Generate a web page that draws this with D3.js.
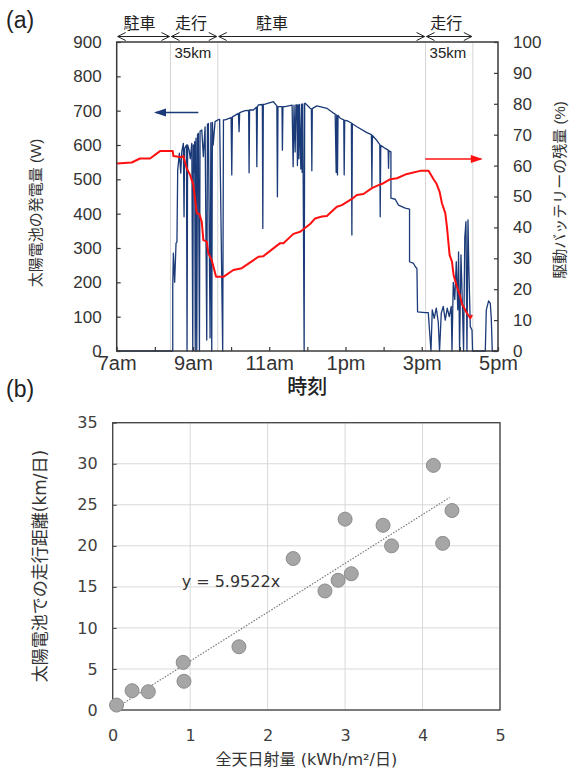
<!DOCTYPE html>
<html>
<head>
<meta charset="utf-8">
<script src="https://cdn.jsdelivr.net/npm/d3@7"></script>
<style>
body { margin: 0; background: #fff; }
svg { display: block; }
</style>
</head>
<body>
<script>
// (a) solar output (W) and battery level (%) over one day, time in decimal hours
let hourTicks = [7, 8, 9, 10, 11, 12, 13, 14, 15, 16, 17];
let hourLabels = {7: "7am", 9: "9am", 11: "11am", 13: "1pm", 15: "3pm", 17: "5pm"};
let wattTicks = [0, 100, 200, 300, 400, 500, 600, 700, 800, 900];
let pctTicks = [0, 10, 20, 30, 40, 50, 60, 70, 80, 90, 100];

let phaseBounds = [7, 8.41, 9.65, 15.10, 16.34];
let phaseNames = ["駐車", "走行", "駐車", "走行"];
let phaseLabelAt = [7.6, 8.95, 11.07, 15.64];
let driveNote = "35km";

let solarW = [
  [7.00, 0], [8.47, 0], [8.47, 187], [8.486, 285], [8.52, 200], [8.556, 314], [8.58, 318],
  [8.60, 527], [8.643, 576], [8.68, 518], [8.706, 580], [8.748, 605], [8.766, 391], [8.78, 590],
  [8.83, 600], [8.845, 0], [8.86, 600], [8.90, 585], [8.93, 560], [8.97, 605], [8.995, 0],
  [9.01, 600], [9.03, 520], [9.045, 610], [9.06, 0], [9.08, 620], [9.10, 0], [9.12, 630],
  [9.142, 634], [9.17, 0], [9.186, 640], [9.231, 644], [9.273, 566], [9.318, 653], [9.362, 32],
  [9.38, 660], [9.404, 663], [9.449, 38], [9.47, 665], [9.493, 0], [9.51, 666], [9.53, 600],
  [9.58, 668], [9.651, 673], [9.70, 675], [9.78, 0], [9.80, 673], [9.843, 673],
  [10.00, 680], [10.018, 513], [10.035, 682], [10.192, 692], [10.21, 639], [10.225, 694],
  [10.367, 700], [10.46, 701], [10.472, 519], [10.485, 702], [10.585, 702], [10.663, 710],
  [10.675, 537], [10.69, 712], [10.717, 717], [10.82, 718], [10.832, 357], [10.845, 718],
  [10.892, 719], [11.11, 726], [11.20, 714], [11.215, 449], [11.23, 712], [11.335, 712],
  [11.346, 585], [11.36, 712], [11.417, 712], [11.60, 716], [11.627, 537], [11.65, 716],
  [11.68, 580], [11.70, 717], [11.724, 717], [11.74, 540], [11.757, 717], [11.777, 560],
  [11.79, 718], [11.829, 530], [11.845, 719], [11.864, 520], [11.88, 720], [11.916, 0],
  [11.93, 721], [11.942, 722], [12.073, 707], [12.105, 705], [12.118, 525], [12.13, 706],
  [12.249, 714], [12.512, 707], [12.70, 692], [12.73, 690], [12.756, 520], [12.77, 688],
  [12.79, 513], [12.805, 686], [12.861, 678], [12.955, 673], [12.966, 513], [12.98, 672],
  [13.037, 671], [13.155, 664], [13.168, 338], [13.18, 662], [13.299, 653], [13.562, 636],
  [13.68, 630], [13.693, 479], [13.705, 628], [13.824, 613], [13.90, 601], [13.911, 391],
  [13.925, 599], [14.042, 590], [14.12, 585], [14.129, 532], [14.14, 583], [14.192, 580],
  [14.192, 445], [14.304, 442], [14.391, 425], [14.567, 416], [14.68, 413], [14.68, 260],
  [14.785, 255], [14.829, 246], [14.874, 240], [14.89, 114], [15.092, 112],
  [15.171, 112], [15.242, 0], [15.276, 120], [15.328, 95], [15.381, 125], [15.433, 85],
  [15.467, 0], [15.512, 110], [15.564, 130], [15.617, 90], [15.669, 125], [15.722, 100],
  [15.774, 130], [15.793, 0], [15.827, 200], [15.866, 150], [15.906, 260], [15.945, 120],
  [15.966, 289], [15.992, 0], [16.029, 280], [16.063, 150], [16.097, 0], [16.129, 330],
  [16.16, 377], [16.186, 0], [16.213, 382], [16.234, 250], [16.273, 71], [16.318, 61],
  [16.333, 0], [16.667, 0], [16.693, 119], [16.753, 146], [16.798, 139], [16.824, 95],
  [16.85, 0], [17.0, 0]
];

let batteryPct = [
  [7.00, 60.7], [7.394, 61.0], [7.612, 62.3], [7.874, 62.3], [8.136, 64.7], [8.47, 64.7],
  [8.486, 63.1], [8.706, 62.7], [8.748, 63.1], [8.837, 59.1], [8.924, 57.0], [9.01, 53.7],
  [9.10, 44.6], [9.168, 44.3], [9.231, 41.8], [9.273, 35.9], [9.362, 35.4], [9.404, 31.6],
  [9.493, 29.4], [9.606, 24.0], [9.798, 24.0], [10.06, 26.2], [10.281, 26.8], [10.717, 30.5],
  [10.848, 30.7], [11.286, 34.9], [11.373, 34.9], [11.635, 37.9], [11.811, 38.6],
  [12.073, 41.1], [12.205, 42.9], [12.381, 43.5], [12.512, 43.7], [12.774, 46.7],
  [12.906, 47.2], [13.168, 49.2], [13.299, 50.5], [13.472, 50.8], [13.693, 52.7],
  [13.866, 53.7], [13.997, 54.3], [14.173, 55.6], [14.349, 55.9], [14.612, 57.3],
  [14.698, 57.5], [14.961, 58.3], [15.178, 58.3], [15.31, 55.6], [15.381, 54.3],
  [15.467, 51.6], [15.53, 47.8], [15.617, 44.6], [15.661, 40.2], [15.73, 31.1],
  [15.793, 28.9], [15.835, 24.6], [15.924, 20.8], [16.01, 17.6], [16.055, 15.2],
  [16.186, 12.2], [16.273, 10.6], [16.318, 11.7]
];

// (b) daily irradiance vs distance driven on solar power
let irradiance = [0.05, 0.25, 0.46, 0.91, 0.92, 1.63, 2.33, 2.74, 2.91, 3.08, 3.00, 3.49, 3.60, 4.14, 4.26, 4.38];
let distance = [0.6, 2.35, 2.23, 5.8, 3.5, 7.7, 18.45, 14.5, 15.8, 16.6, 23.25, 22.5, 20.0, 29.8, 20.3, 24.3];
let slope = 5.9522;
let irrTicks = [0, 1, 2, 3, 4, 5];
let distTicks = [0, 5, 10, 15, 20, 25, 30, 35];

let width = 574;
let height = 776;
let latin = "'Liberation Sans', Arial, 'Noto Sans CJK JP', sans-serif";
let verd = "'DejaVu Sans', Verdana, 'Noto Sans CJK JP', sans-serif";

let svg = d3.select("body").append("svg").attr("width", width).attr("height", height);

// ---------- chart (a) ----------
let ax = d3.scaleLinear().domain([7, 17]).range([116.7, 498]);
let ayW = d3.scaleLinear().domain([0, 900]).range([351, 42]);
let ayP = d3.scaleLinear().domain([0, 100]).range([351, 42]);

let ga = svg.append("g");

// phase separators
ga.selectAll("line.sep").data(phaseBounds.slice(1)).enter().append("line")
  .attr("x1", (d) => ax(d)).attr("x2", (d) => ax(d))
  .attr("y1", ayW(900)).attr("y2", ayW(0))
  .attr("stroke", "#d4d4d4").attr("stroke-width", 1);

let lineW = d3.line().x((d) => ax(d[0])).y((d) => ayW(d[1]));
let lineP = d3.line().x((d) => ax(d[0])).y((d) => ayP(d[1]));

ga.append("path").datum(solarW).attr("d", lineW)
  .attr("fill", "none").attr("stroke", "#1b3a78").attr("stroke-width", 1.3)
  .attr("stroke-linejoin", "round");
ga.append("path").datum(batteryPct).attr("d", lineP)
  .attr("fill", "none").attr("stroke", "#ff1010").attr("stroke-width", 2)
  .attr("stroke-linejoin", "round");

// frame
ga.append("rect").attr("x", ax(7)).attr("y", ayW(900))
  .attr("width", ax(17) - ax(7)).attr("height", ayW(0) - ayW(900))
  .attr("fill", "none").attr("stroke", "#3a3a3a").attr("stroke-width", 1.5);

let axLeft = d3.axisLeft(ayW).tickValues(wattTicks).tickSize(-4).tickPadding(15);
let axRight = d3.axisRight(ayP).tickValues(pctTicks).tickSize(-4).tickPadding(15);
let axBottom = d3.axisBottom(ax).tickValues(hourTicks).tickSize(-4).tickPadding(5)
  .tickFormat((d) => hourLabels[d] || "");

function styleAxis(g, size) {
  g.select(".domain").remove();
  g.selectAll(".tick line").attr("stroke", "#3a3a3a").attr("stroke-width", 1.2);
  g.selectAll(".tick text").attr("fill", "#333").style("font-family", latin).style("font-size", size + "px");
}

ga.append("g").attr("transform", "translate(" + ax(7) + ",0)").call(axLeft).call((g) => styleAxis(g, 17));
ga.append("g").attr("transform", "translate(" + ax(17) + ",0)").call(axRight).call((g) => styleAxis(g, 17));
ga.append("g").attr("transform", "translate(0," + ayW(0) + ")").call(axBottom).call((g) => styleAxis(g, 20));

// axis titles
ga.append("text").attr("transform", "translate(41,213) rotate(-90)")
  .attr("text-anchor", "middle").style("font-family", latin).style("font-size", "15px").attr("fill", "#333")
  .text("太陽電池の発電量 (W)");
ga.append("text").attr("transform", "translate(565,190) rotate(-90)")
  .attr("text-anchor", "middle").style("font-family", latin).style("font-size", "15px").attr("fill", "#333")
  .text("駆動バッテリーの残量 (%)");
ga.append("text").attr("x", ax(12)).attr("y", 394)
  .attr("text-anchor", "middle").style("font-family", latin).style("font-size", "20px").attr("fill", "#222")
  .attr("font-weight", 500)
  .text("時刻");
ga.append("text").attr("x", 6).attr("y", 28)
  .style("font-family", latin).style("font-size", "23px").attr("fill", "#222").text("(a)");

// series arrows
function arrow(g, x1, x2, y, color, w) {
  let dir = x2 > x1 ? 1 : -1;
  g.append("line").attr("x1", x1).attr("x2", x2).attr("y1", y).attr("y2", y)
    .attr("stroke", color).attr("stroke-width", w);
  g.append("path")
    .attr("d", "M" + (x2 + dir * 2) + "," + y + "L" + (x2 - dir * 10) + "," + (y - 4) + "L" + (x2 - dir * 10) + "," + (y + 4) + "Z")
    .attr("fill", color);
}
arrow(ga, ax(9.14), ax(8.03), ayW(695), "#1b3a78", 1.5);
arrow(ga, ax(15.09), ax(16.55), ayP(62.1), "#ff1010", 1.5);

// phase arrows above the plot
function dblArrow(g, x1, x2, y) {
  g.append("line").attr("x1", x1).attr("x2", x2).attr("y1", y).attr("y2", y)
    .attr("stroke", "#222").attr("stroke-width", 1);
  g.append("path").attr("d", "M" + (x1 + 8) + "," + (y - 4) + "L" + x1 + "," + y + "L" + (x1 + 8) + "," + (y + 4))
    .attr("fill", "none").attr("stroke", "#222").attr("stroke-width", 1);
  g.append("path").attr("d", "M" + (x2 - 8) + "," + (y - 4) + "L" + x2 + "," + y + "L" + (x2 - 8) + "," + (y + 4))
    .attr("fill", "none").attr("stroke", "#222").attr("stroke-width", 1);
}
phaseNames.forEach((name, i) => {
  dblArrow(ga, ax(phaseBounds[i]) + 1, ax(phaseBounds[i + 1]) - 1, 36.5);
  ga.append("text").attr("x", ax(phaseLabelAt[i])).attr("y", 29)
    .attr("text-anchor", "middle").style("font-family", latin).style("font-size", "16px").attr("fill", "#222")
    .text(name);
  if (name === "走行") {
    ga.append("text").attr("x", ax(phaseBounds[i]) + 4).attr("y", 58)
      .style("font-family", latin).style("font-size", "15px").attr("fill", "#222").text(driveNote);
  }
});

// ---------- chart (b) ----------
let bx = d3.scaleLinear().domain([0, 5]).range([112.7, 500]);
let by = d3.scaleLinear().domain([0, 35]).range([710, 422.7]);

let gb = svg.append("g");

gb.selectAll("line.gx").data(irrTicks).enter().append("line")
  .attr("x1", (d) => bx(d)).attr("x2", (d) => bx(d)).attr("y1", by(0)).attr("y2", by(35))
  .attr("stroke", "#d9d9d9").attr("stroke-width", 1);
gb.selectAll("line.gy").data(distTicks).enter().append("line")
  .attr("x1", bx(0)).attr("x2", bx(5)).attr("y1", (d) => by(d)).attr("y2", (d) => by(d))
  .attr("stroke", "#d9d9d9").attr("stroke-width", 1);

gb.append("rect").attr("x", bx(0)).attr("y", by(35))
  .attr("width", bx(5) - bx(0)).attr("height", by(0) - by(35))
  .attr("fill", "none").attr("stroke", "#404040").attr("stroke-width", 1.3);

let bLeft = d3.axisLeft(by).tickValues(distTicks).tickSize(-4).tickPadding(15).tickFormat(d3.format("d"));
let bBottom = d3.axisBottom(bx).tickValues(irrTicks).tickSize(0).tickPadding(20).tickFormat(d3.format("d"));
function styleB(g) {
  g.select(".domain").remove();
  g.selectAll(".tick line").attr("stroke", "#404040");
  g.selectAll(".tick text").attr("fill", "#404040").style("font-family", verd).style("font-size", "16px");
}
gb.append("g").attr("transform", "translate(" + bx(0) + ",0)").call(bLeft).call(styleB);
gb.append("g").attr("transform", "translate(0," + by(0) + ")").call(bBottom).call(styleB);

// trend line y = slope * x
let xr = d3.extent(irradiance);
gb.append("line")
  .attr("x1", bx(xr[0])).attr("y1", by(slope * xr[0]))
  .attr("x2", bx(xr[1] - 0.03)).attr("y2", by(slope * (xr[1] - 0.03)))
  .attr("stroke", "#7a7a7a").attr("stroke-width", 1.2).attr("stroke-dasharray", "1.5,1.5");

let pts = irradiance.map((d, i) => [d, distance[i]]);
gb.selectAll("circle").data(pts).enter().append("circle")
  .attr("cx", (d) => bx(d[0])).attr("cy", (d) => by(d[1])).attr("r", 7)
  .attr("fill", "#a6a6a6").attr("stroke", "#8c8c8c").attr("stroke-width", 1);

gb.append("text").attr("x", bx(0.89)).attr("y", by(15.0))
  .style("font-family", verd).style("font-size", "16px").attr("fill", "#333")
  .text("y = " + slope + "x");

gb.append("text").attr("transform", "translate(46,566) rotate(-90)")
  .attr("text-anchor", "middle").style("font-family", verd).style("font-size", "17px").attr("fill", "#333")
  .text("太陽電池での走行距離(km/日)");
gb.append("text").attr("x", bx(2.5)).attr("y", 765)
  .attr("text-anchor", "middle").style("font-family", verd).style("font-size", "16px").attr("fill", "#333")
  .text("全天日射量 (kWh/m²/日)");
gb.append("text").attr("x", 6).attr("y", 397)
  .style("font-family", latin).style("font-size", "23px").attr("fill", "#222").text("(b)");
</script>
</body>
</html>
